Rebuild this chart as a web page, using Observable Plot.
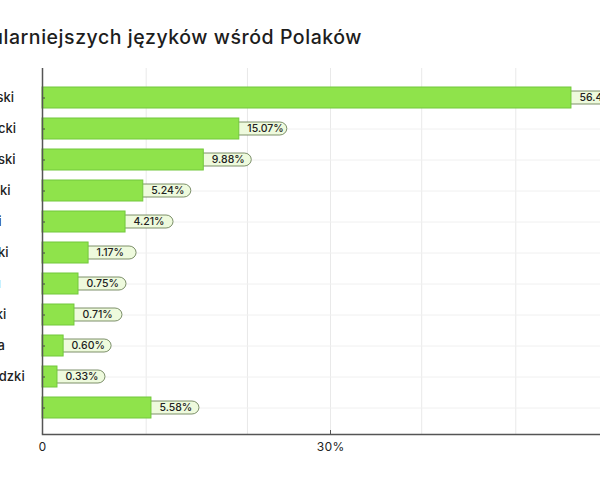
<!DOCTYPE html>
<html><head><meta charset="utf-8">
<script src="https://cdn.jsdelivr.net/npm/d3@7"></script>
<script src="https://cdn.jsdelivr.net/npm/@observablehq/plot@0.6"></script>
<style>
html,body{margin:0;padding:0;background:#fff;overflow:hidden;width:600px;height:480px;}
#wrap{position:relative;width:600px;height:480px;overflow:hidden;font-family:Inter, "Noto Sans", sans-serif;}
#title{position:absolute;z-index:2;top:25px;right:238px;white-space:nowrap;font-size:19.5px;font-weight:500;color:#1d1d1d;letter-spacing:0.55px;}
#chart{position:absolute;z-index:1;left:-100px;top:0;}
#chart svg{max-width:none;}
</style></head><body>
<div id="wrap"><div id="title">Ranking najpopularniejszych języków wśród Polaków</div><div id="chart"></div></div>
<script>
// categories (top to bottom)
const languages = ["angielski","niemiecki","francuski","rosyjski","hindi","chiński","urdu","czeski","łacina","niderlandzki","inne"];
// shares printed in the value labels (%)
const shares = [56.47, 15.07, 9.88, 5.24, 4.21, 1.17, 0.75, 0.71, 0.60, 0.33, 5.58];
// bar lengths as drawn in the picture, read against the x axis (%)
const barLengths = [55.1, 20.5, 16.8, 10.5, 8.65, 4.8, 3.75, 3.33, 2.2, 1.56, 11.35];
// x axis tick labels and vertical grid lines (%)
const xTicks = [0, 30, 60];
const gridValues = [10.8, 21.35, 30, 39.5, 49.3];

const data = languages.map((lang, i) => ({lang, len: barLengths[i], label: shares[i].toFixed(2) + "%"}));
const L = 100;
const chart = Plot.plot({
  width: 640 + L, height: 480,
  marginLeft: 42 + L, marginRight: 22, marginTop: 72, marginBottom: 46,
  style: {fontFamily: "Inter, 'Noto Sans', sans-serif", background: "transparent", color: "#222"},
  x: {domain: [0, 60], label: null},
  y: {domain: languages, padding: 0.32, label: null},
  marks: [
    Plot.gridX(gridValues, {stroke: "#e9e9e9", strokeOpacity: 1, insetTop: -4}),
    Plot.gridY(languages, {stroke: "#f0f0f0", strokeOpacity: 1}),
    Plot.barX(data, {x1: "len", x2: "len", y: "lang", insetLeft: -8, insetRight: -48, insetTop: 4, insetBottom: 4, rx: 7, fill: "#eefadd", stroke: "#5d7448", strokeWidth: 0.8}),
    Plot.barX(data, {x: "len", y: "lang", fill: "#8fe34b", stroke: "#72c83c", strokeWidth: 1}),
    Plot.text(data, {x: "len", y: "lang", text: "label", textAnchor: "start", dx: 8, fontSize: 10.5, fontWeight: 500, fill: "#222"}),
    Plot.text(data, {y: "lang", text: "lang", frameAnchor: "left", textAnchor: "middle", dx: -56, fontSize: 13, fontWeight: 500, fill: "#222"}),
    Plot.axisY({tickSize: -3, tickFormat: () => "", stroke: "#444", label: null}),
    Plot.axisX(xTicks, {tickSize: -4, tickFormat: () => "", stroke: "#555", label: null}),
    Plot.axisX(xTicks, {tickSize: 0, tickPadding: 8, tickFormat: d => d === 0 ? "0" : d + "%", fontSize: 12, fill: "#222", label: null}),
    Plot.ruleX([0], {stroke: "#555", strokeWidth: 1.5, insetTop: -4}),
    Plot.frame({anchor: "bottom", stroke: "#555", strokeWidth: 1.5})
  ]
});
document.getElementById("chart").appendChild(chart);
</script>
</body></html>
